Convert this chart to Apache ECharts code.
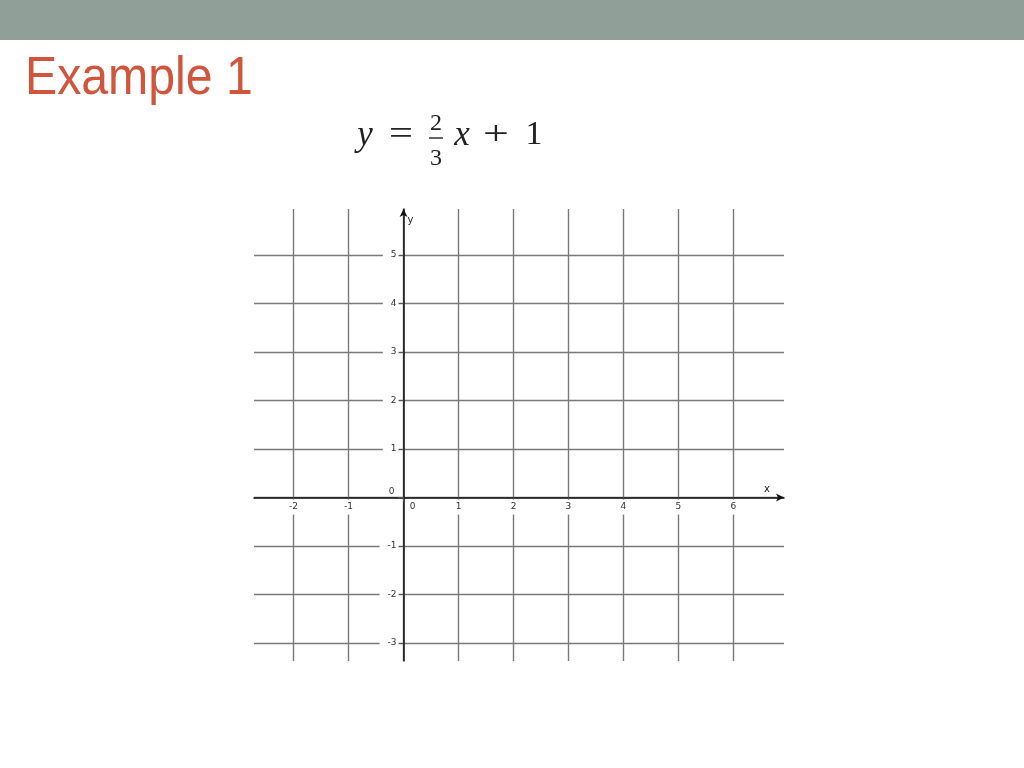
<!DOCTYPE html>
<html>
<head>
<meta charset="utf-8">
<script src="https://cdn.jsdelivr.net/npm/echarts@6/dist/echarts.min.js"></script>
<style>
  html, body { margin: 0; padding: 0; background: #fff; }
  #chart { width: 1024px; height: 768px; }
</style>
</head>
<body>
<div id="chart"></div>
<script>
// axis ranges and tick values of the empty coordinate plane
const xRange = [-2.72, 6.92];
const yRange = [-3.37, 5.95];
const xTicks = [-2, -1, 0, 1, 2, 3, 4, 5, 6];
const yTicks = [-3, -2, -1, 0, 1, 2, 3, 4, 5];

const tickFont = 'DejaVu Sans';
const mathFont = '"Liberation Serif", serif';

const chart = echarts.init(document.getElementById('chart'));
const gridBox = { left: 254, right: 240, top: 209, bottom: 107 };

// grid-line axes (index 0), label axes drawn above them (index 1)
const gridAxis = (pos, range) => ({
    type: 'value', position: pos, min: range[0], max: range[1],
    minInterval: 1, maxInterval: 1, splitNumber: 10, z: 0,
    axisLine: { show: false, onZero: false },
    axisTick: { show: false },
    axisLabel: { show: false },
    splitLine: { show: true, showMinLine: false, showMaxLine: false,
        lineStyle: { color: '#7a7a7a', width: 1.4 } }
});

const eqText = (txt, x, y, size, italic, extra) => Object.assign({
    type: 'text', x: x, y: y,
    style: { text: txt, font: (italic ? 'italic ' : '') + size + 'px ' + mathFont, fill: '#222',
        align: 'center', verticalAlign: 'middle' }
}, extra || {});

chart.setOption({
    backgroundColor: '#ffffff',
    animation: false,
    graphic: [
        { type: 'rect', shape: { x: 0, y: 0, width: 1024, height: 40 }, style: { fill: '#909f98' } },
        { type: 'text', x: 25, y: 79, scaleX: 0.91,
          style: { text: 'Example 1', font: '53px "Liberation Sans", Arial, sans-serif', fill: '#d1553d', verticalAlign: 'middle' } },
        // y = 2/3 x + 1
        eqText('y', 365, 135.5, 35, true),
        eqText('=', 401, 135.5, 34, false, { scaleX: 1.25 }),
        eqText('2', 436, 124, 24, false),
        { type: 'line', shape: { x1: 429, y1: 138, x2: 443, y2: 138 }, style: { stroke: '#222', lineWidth: 1.4 } },
        eqText('3', 436, 159, 24, false),
        eqText('x', 462, 135.5, 35, true),
        eqText('+', 496, 135.5, 34, false, { scaleX: 1.35 }),
        eqText('1', 534, 135.5, 34, false)
    ],
    grid: Object.assign({ containLabel: false }, gridBox),
    xAxis: [
        gridAxis('top', xRange),
        {
            type: 'value', position: 'bottom', min: xRange[0], max: xRange[1],
            minInterval: 1, maxInterval: 1, splitNumber: 10, z: 5,
            name: 'x', nameLocation: 'end', nameGap: -20,
            nameTextStyle: { fontFamily: tickFont, fontSize: 10, color: '#222', verticalAlign: 'bottom', padding: [0, 0, 3, 0] },
            axisLine: { show: true, onZero: false, symbol: ['none', 'arrow'], symbolSize: [6, 8],
                lineStyle: { color: '#111', width: 1.5 } },
            axisTick: { show: true, customValues: xTicks, length: 4, lineStyle: { color: '#555' } },
            axisLabel: {
                customValues: xTicks, margin: 2,
                formatter: v => (v === 0 ? '{z|0}' : '{b|' + v + '}'),
                rich: {
                    b: { fontFamily: tickFont, fontSize: 9, color: '#333', backgroundColor: '#fff', padding: [3, 3, 3, 3] },
                    z: { fontFamily: tickFont, fontSize: 9, color: '#333', padding: [3, 0, 3, 18] }
                }
            },
            splitLine: { show: false }
        }
    ],
    yAxis: [
        gridAxis('right', yRange),
        {
            type: 'value', position: 'left', min: yRange[0], max: yRange[1],
            minInterval: 1, maxInterval: 1, splitNumber: 10, z: 5,
            name: 'y', nameLocation: 'end', nameGap: -16,
            nameTextStyle: { fontFamily: tickFont, fontSize: 10, color: '#222', padding: [0, 0, 0, 14] },
            axisLine: { show: true, onZero: false, symbol: ['none', 'arrow'], symbolSize: [6, 8],
                lineStyle: { color: '#111', width: 1.5 } },
            axisTick: { show: true, customValues: yTicks, length: 5, lineStyle: { color: '#555' } },
            axisLabel: {
                customValues: yTicks, margin: 5,
                formatter: v => (v === 0 ? '{z|0}' : '{b|' + v + '}'),
                rich: {
                    b: { fontFamily: tickFont, fontSize: 9, color: '#333', backgroundColor: '#fff', padding: [2, 2, 2, 8] },
                    z: { fontFamily: tickFont, fontSize: 9, color: '#333', padding: [0, 4, 12, 0] }
                }
            },
            splitLine: { show: false }
        }
    ],
    series: [{ type: 'line', xAxisIndex: 1, yAxisIndex: 1, data: [], silent: true }]
});

// move the labelled axes so they cross at the origin
const zeroX = chart.convertToPixel({ xAxisIndex: 1 }, 0);
const zeroY = chart.convertToPixel({ yAxisIndex: 1 }, 0);
chart.setOption({
    xAxis: [{}, { offset: -((768 - gridBox.bottom) - zeroY) }],
    yAxis: [{}, { offset: -(zeroX - gridBox.left) }]
});
</script>
</body>
</html>
